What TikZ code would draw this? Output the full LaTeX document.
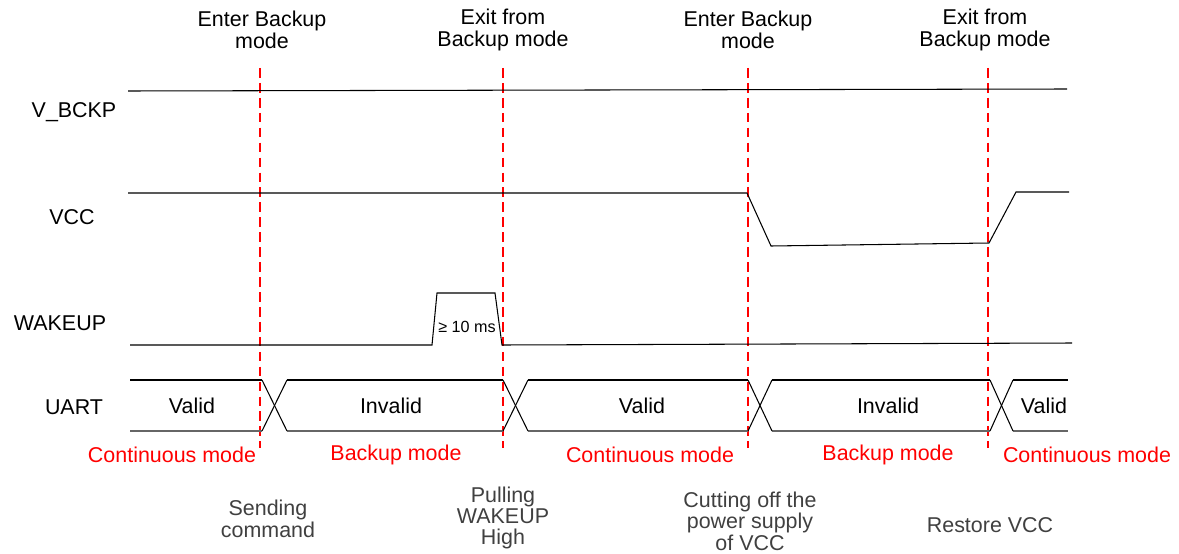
\documentclass[tikz,border=0pt]{standalone}
\usepackage{fontspec}
\setmainfont{Liberation Sans}
\begin{document}
\begin{tikzpicture}[x=0.02cm,y=-0.02cm,
    every node/.style={font=\fontsize{12.2}{12.2}\selectfont,align=center,inner sep=0pt},
    sig/.style={line width=0.6pt},
    modeline/.style={red,line width=0.6pt,dash pattern=on 5.5pt off 3pt},
    modetext/.style={text=red},
    eventtext/.style={text=black!75}]
  \useasboundingbox (0,0) rectangle (1179,554);
  % mode boundaries
  \foreach \x/\name in {260/b1,503/b2,748/b3,988/b4} {
    \coordinate (\name top) at (\x,68);
    \coordinate (\name bot) at (\x,448);
    \draw[modeline] (\name top) -- (\name bot);
  }
  \node (enterA) at (262,30) {Enter Backup\\mode};
  \node (exitA) at (503,30) {Exit from\\Backup mode};
  \node (enterB) at (748,30) {Enter Backup\\mode};
  \node (exitB) at (985,30) {Exit from\\Backup mode};
  % signal names
  \node (vbckp) at (74,112) {V\_BCKP};
  \node (vcc) at (72,217) {VCC};
  \node (wakeup) at (60,323) {WAKEUP};
  \node (uart) at (74,407) {UART};
  % waveforms
  \draw[sig] (128,91) -- (1067,89);
  \draw[sig] (128,193) -- (747,193) -- (771,246) -- (989,243) -- (1016,192) -- (1069,192);
  \draw[sig] (130,345) -- (432,345) -- (437,293) -- (495,293) -- (502,345) -- (1072,343);
  \node[font=\fontsize{9.2}{9.2}\selectfont] (tmin) at (467,327) {≥ 10 ms};
  % uart bus
  \foreach \a/\b in {130/262,287/503,528/748,772/990,1013/1068} {
    \draw[sig] (\a,380) -- (\b,380);
    \draw[sig,black!60] (\a,431) -- (\b,431);
  }
  \foreach \a/\b in {262/287,503/528,748/772,990/1013} {
    \draw[sig] (\a,380) -- (\b,431);
    \draw[sig] (\a,431) -- (\b,380);
  }
  \node (valid1) at (192,406) {Valid};
  \node (invalid1) at (391,406) {Invalid};
  \node (valid2) at (642,406) {Valid};
  \node (invalid2) at (888,406) {Invalid};
  \node (valid3) at (1044,406) {Valid};
  % modes
  \node[modetext] (cont1) at (172,455) {Continuous mode};
  \node[modetext] (backup1) at (396,455) {Backup mode};
  \node[modetext] (cont2) at (650,455) {Continuous mode};
  \node[modetext] (backup2) at (888,455) {Backup mode};
  \node[modetext] (cont3) at (1087,455) {Continuous mode};
  % events
  \node[eventtext] (send) at (268,519) {Sending\\command};
  \node[eventtext] (pull) at (503,518) {Pulling\\WAKEUP\\High};
  \node[eventtext] (cut) at (750,521) {Cutting off the\\power supply\\of VCC};
  \node[eventtext] (restore) at (990,525) {Restore VCC};
\end{tikzpicture}
\end{document}
